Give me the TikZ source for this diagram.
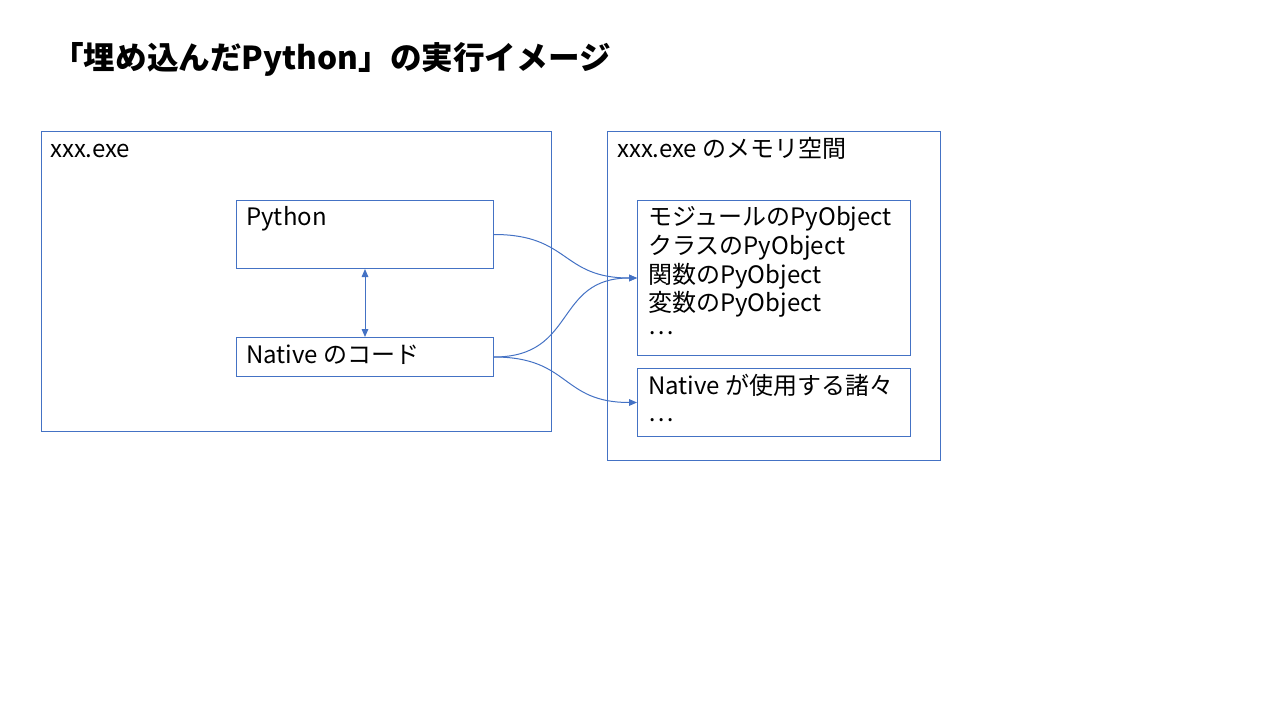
\documentclass[tikz,border=0pt]{standalone}
\usepackage{fontspec}
\setmainfont{Noto Sans CJK JP}
\usepackage{tikz}
\usetikzlibrary{arrows.meta}
\definecolor{offblue}{RGB}{68,114,196}
\tikzset{
  box/.style={draw=offblue, line width=0.75pt, anchor=north west, inner sep=0pt},
  txt/.style={anchor=base west, inner sep=0pt, font=\fontsize{18}{21}\selectfont},
  conn/.style={draw=offblue, line width=0.75pt, -{Triangle[length=6pt,width=5pt]}},
}

\begin{document}
\begin{tikzpicture}[x=0.75pt,y=-0.75pt]
\useasboundingbox (0,0) rectangle (1280,720);
\node[anchor=base west, inner sep=0pt, font=\fontsize{23.7}{28}\selectfont\bfseries] (title) at (52,70) {「埋め込んだPython」の実行イメージ};
% the program
\node[box, minimum width=510*0.75pt, minimum height=300*0.75pt] (exe) at (41,131) {};
\node[txt] (exelbl) at (50,158) {xxx.exe};
\node[box, minimum width=257*0.75pt, minimum height=68*0.75pt] (py) at (236,200) {};
\node[txt] (pylbl) at (246,226) {Python};
\node[box, minimum width=257*0.75pt, minimum height=39*0.75pt] (nat) at (236,337) {};
\node[txt] (natlbl) at (246,363) {Native のコード};
\draw[conn, {Triangle[length=6pt,width=5pt]}-{Triangle[length=6pt,width=5pt]}] (py.south) -- (nat.north);
% its memory
\node[box, minimum width=333*0.75pt, minimum height=329*0.75pt] (mem) at (607,131) {};
\node[txt] (memlbl) at (617,158) {xxx.exe のメモリ空間};
\node[box, minimum width=273*0.75pt, minimum height=155*0.75pt] (objs) at (637,200) {};
\node[txt] (obj1) at (648,225) {モジュールのPyObject};
\node[txt] (obj2) at (648,254) {クラスのPyObject};
\node[txt] (obj3) at (648,283) {関数のPyObject};
\node[txt] (obj4) at (648,311) {変数のPyObject};
\node[txt] (obj5) at (648,334) {…};
\node[box, minimum width=273*0.75pt, minimum height=68*0.75pt] (misc) at (637,368) {};
\node[txt] (misc1) at (648,394) {Native が使用する諸々};
\node[txt] (misc2) at (648,421) {…};
% links
\draw[conn] (py.east) to[out=0,in=180,looseness=1.3] (objs.west);
\draw[conn] (nat.east) to[out=0,in=180,looseness=1.3] (objs.west);
\draw[conn] (nat.east) to[out=0,in=180,looseness=1.3] (misc.west);
\end{tikzpicture}
\end{document}
